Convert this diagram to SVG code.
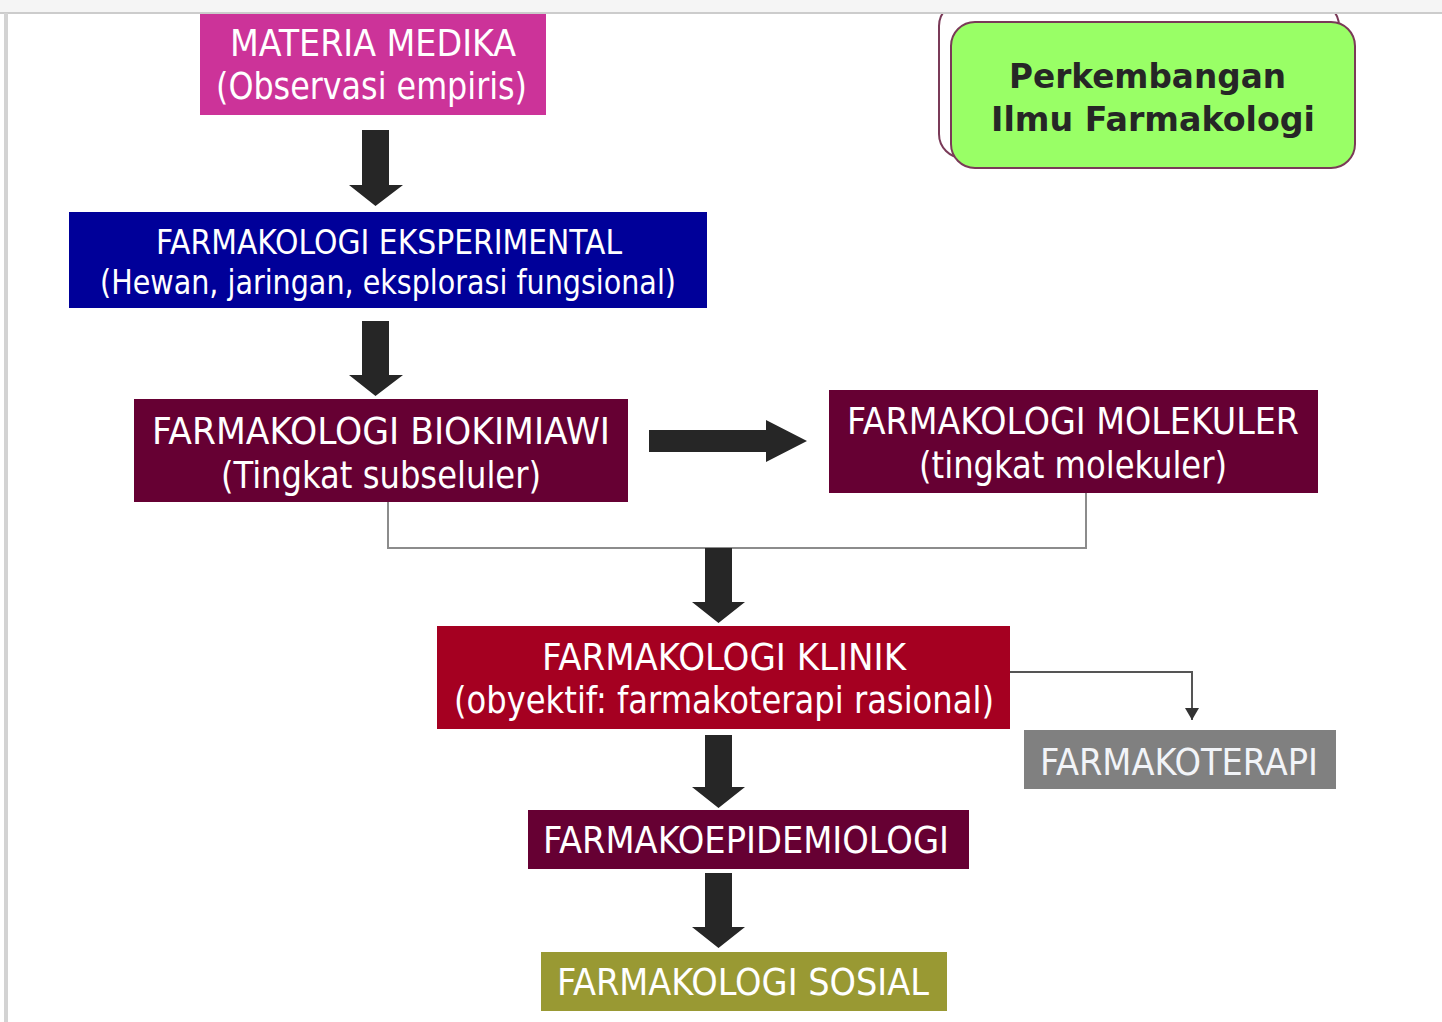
<svg xmlns="http://www.w3.org/2000/svg" width="1442" height="1022" viewBox="0 0 1442 1022">
<style>
.t{font-family:'DejaVu Sans Condensed','DejaVu Sans',sans-serif;font-size:38px;fill:#ffffff;text-anchor:middle}
.s{font-size:34px}
.g{font-family:'DejaVu Sans','Liberation Sans',sans-serif;font-weight:bold;font-size:34px;fill:#262626;text-anchor:middle}
.blk{fill:#262626}
.ln{fill:none;stroke:#8c8c8c;stroke-width:2}
</style>
<defs>
<marker id="ah" markerWidth="12" markerHeight="14" refX="12" refY="7" orient="auto" markerUnits="userSpaceOnUse" viewBox="0 0 12 14">
<path d="M0,0 L12,7 L0,14 Z" fill="#333333"/>
</marker>
</defs>
<rect x="0" y="0" width="1442" height="1022" fill="#ffffff"/>
<g id="title">
<rect x="939" y="2" width="400" height="156" rx="24" fill="#ffffff" stroke="#7a3a58" stroke-width="2"/>
<rect x="951" y="22" width="404" height="146" rx="24" fill="#99ff66" stroke="#7a3a58" stroke-width="2"/>
<text class="g" x="1147.5" y="88" textLength="277" lengthAdjust="spacingAndGlyphs">Perkembangan</text>
<text class="g" x="1153" y="131" textLength="324" lengthAdjust="spacingAndGlyphs">Ilmu Farmakologi</text>
</g>
<rect x="0" y="0" width="1442" height="13" fill="#f5f5f5"/>
<rect x="0" y="12" width="1442" height="2" fill="#cccccc"/>
<rect x="4" y="13" width="4" height="1009" fill="#d3d3d3"/>
<g id="connectors">
<polygon class="blk" points="362,130 389,130 389,185 403,185 375.5,206 349,185 362,185"/>
<polygon class="blk" points="362,321 389,321 389,375 403,375 375.5,396 349,375 362,375"/>
<polygon class="blk" points="649,430 766,430 766,420 807,441 766,462 766,452 649,452"/>
<path class="ln" d="M388,502 V548 H1086 V493"/>
<polygon class="blk" points="705,548 732,548 732,602 745,602 718.5,623 692,602 705,602"/>
<path d="M1010,672 H1192 V720" fill="none" stroke="#555555" stroke-width="2" marker-end="url(#ah)"/>
<polygon class="blk" points="705,735 732,735 732,787 745,787 718.5,808 692,787 705,787"/>
<polygon class="blk" points="705,873 732,873 732,927 745,927 718.5,948 692,927 705,927"/>
</g>
<g id="materia-medika">
<rect x="200" y="14" width="346" height="101" fill="#cc3399"/>
<text class="t" x="373" y="56" textLength="286" lengthAdjust="spacingAndGlyphs">MATERIA MEDIKA</text>
<text class="t" x="371.5" y="99" textLength="311" lengthAdjust="spacingAndGlyphs">(Observasi empiris)</text>
</g>
<g id="farmakologi-eksperimental">
<rect x="69" y="212" width="638" height="96" fill="#000099"/>
<text class="t s" x="389" y="254" textLength="466" lengthAdjust="spacingAndGlyphs">FARMAKOLOGI EKSPERIMENTAL</text>
<text class="t s" x="388" y="294" textLength="576" lengthAdjust="spacingAndGlyphs">(Hewan, jaringan, eksplorasi fungsional)</text>
</g>
<g id="farmakologi-biokimiawi">
<rect x="134" y="399" width="494" height="103" fill="#660033"/>
<text class="t" x="381" y="444" textLength="458" lengthAdjust="spacingAndGlyphs">FARMAKOLOGI BIOKIMIAWI</text>
<text class="t" x="381" y="488" textLength="320" lengthAdjust="spacingAndGlyphs">(Tingkat subseluler)</text>
</g>
<g id="farmakologi-molekuler">
<rect x="829" y="390" width="489" height="103" fill="#660033"/>
<text class="t" x="1073" y="434" textLength="452" lengthAdjust="spacingAndGlyphs">FARMAKOLOGI MOLEKULER</text>
<text class="t" x="1073" y="478" textLength="308" lengthAdjust="spacingAndGlyphs">(tingkat molekuler)</text>
</g>
<g id="farmakologi-klinik">
<rect x="437" y="626" width="573" height="103" fill="#a50021"/>
<text class="t" x="724" y="670" textLength="364" lengthAdjust="spacingAndGlyphs">FARMAKOLOGI KLINIK</text>
<text class="t" x="724" y="713" textLength="540" lengthAdjust="spacingAndGlyphs">(obyektif: farmakoterapi rasional)</text>
</g>
<g id="farmakoterapi">
<rect x="1024" y="730" width="312" height="59" fill="#808080"/>
<text class="t" x="1179" y="775" textLength="278" lengthAdjust="spacingAndGlyphs" style="fill:#f2f4f8">FARMAKOTERAPI</text>
</g>
<g id="farmakoepidemiologi">
<rect x="528" y="810" width="441" height="59" fill="#660033"/>
<text class="t" x="746" y="853" textLength="406" lengthAdjust="spacingAndGlyphs">FARMAKOEPIDEMIOLOGI</text>
</g>
<g id="farmakologi-sosial">
<rect x="541" y="952" width="406" height="59" fill="#999933"/>
<text class="t" x="743" y="995" textLength="372" lengthAdjust="spacingAndGlyphs">FARMAKOLOGI SOSIAL</text>
</g>
</svg>
